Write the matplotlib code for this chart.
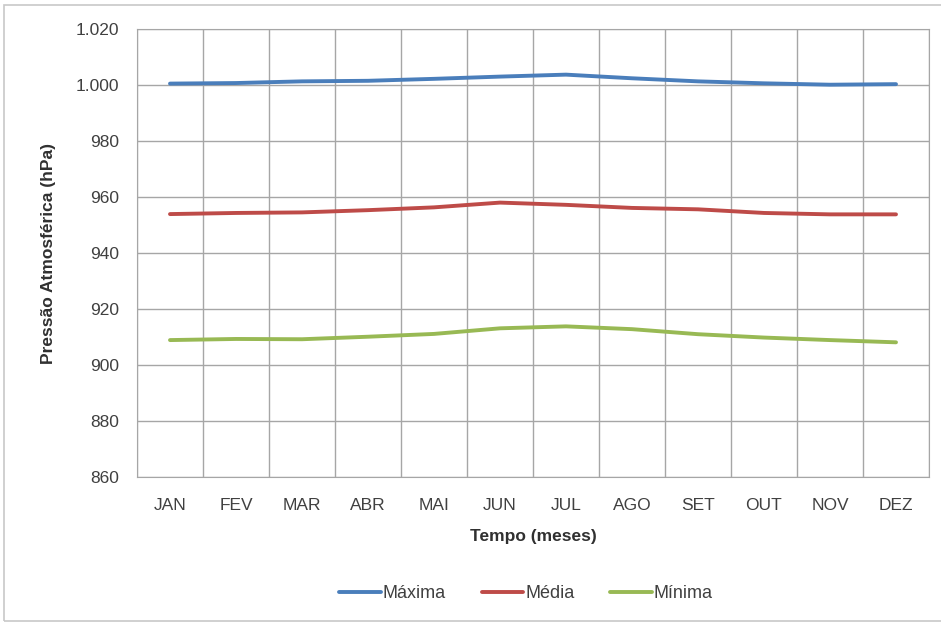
import matplotlib
matplotlib.use("Agg")
import matplotlib.pyplot as plt
from matplotlib.patches import Rectangle
from matplotlib.ticker import FuncFormatter

meses = ["JAN", "FEV", "MAR", "ABR", "MAI", "JUN", "JUL", "AGO", "SET", "OUT", "NOV", "DEZ"]
maxima = [1000.5, 1000.7, 1001.3, 1001.5, 1002.2, 1003.0, 1003.7, 1002.4, 1001.3, 1000.6, 1000.1, 1000.3]
media = [953.9, 954.3, 954.5, 955.3, 956.3, 958.0, 957.2, 956.1, 955.6, 954.3, 953.8, 953.8]
minima = [908.9, 909.3, 909.2, 910.1, 911.1, 913.1, 913.8, 912.8, 911.0, 909.8, 908.9, 908.1]
y_ticks = list(range(860, 1021, 20))

plt.rcParams["font.family"] = ["Liberation Sans", "DejaVu Sans"]
grid_c = "#a6a6a6"
txt_c = "#404040"

fig = plt.figure(figsize=(9.41, 6.23), dpi=100)
fig.patches.append(Rectangle((0.004, 0.004), 1.2, 0.988, transform=fig.transFigure,
                             fill=False, edgecolor="#c8c8c8", linewidth=1.2))
ax = fig.add_axes([137 / 941, 1 - 477 / 623, 792 / 941, 448 / 623])

x = range(len(meses))
ax.plot(x, maxima, color="#4a7ebb", lw=2.8, solid_capstyle="round", label="Máxima", zorder=3)
ax.plot(x, media, color="#be4b48", lw=2.8, solid_capstyle="round", label="Média", zorder=3)
ax.plot(x, minima, color="#98b954", lw=2.8, solid_capstyle="round", label="Mínima", zorder=3)

ax.set_xlim(-0.5, len(meses) - 0.5)
ax.set_ylim(860, 1020)
ax.set_yticks(y_ticks)
ax.yaxis.set_major_formatter(FuncFormatter(lambda v, p: f"{int(v):,}".replace(",", ".")))
ax.set_xticks(list(x))
ax.set_xticklabels(meses)
# vertical grid between categories
ax.set_xticks([i - 0.5 for i in range(len(meses) + 1)], minor=True)
ax.grid(which="minor", axis="x", color=grid_c, lw=1)
ax.grid(which="major", axis="y", color=grid_c, lw=1)
ax.set_axisbelow(True)
for s in ax.spines.values():
    s.set_color(grid_c)
ax.tick_params(axis="both", which="both", length=0, labelsize=12.5, colors=txt_c, pad=13)
ax.tick_params(axis="x", pad=15)

ax.set_ylabel("Pressão Atmosférica (hPa)", fontsize=12.5, fontweight="bold", color="#303030", labelpad=14)
ax.set_xlabel("Tempo (meses)", fontsize=12.5, fontweight="bold", color="#303030", labelpad=12)

fig.legend(loc="center", bbox_to_anchor=(526 / 941, 1 - 594 / 623), ncol=3, frameon=False,
           fontsize=13, handlelength=2.3, handletextpad=0.1, columnspacing=2.0, labelcolor=txt_c)

fig.savefig("out.png", dpi=100)
